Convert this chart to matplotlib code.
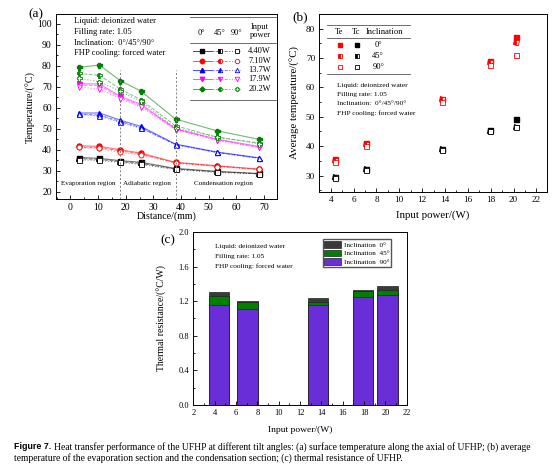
import numpy as np
import matplotlib
matplotlib.use('Agg')
import matplotlib.pyplot as plt
from matplotlib.patches import Patch
from matplotlib.ticker import MultipleLocator
import matplotlib.transforms as mtransforms

plt.rcParams['font.family'] = ['Liberation Serif', 'DejaVu Serif']
plt.rcParams['axes.linewidth'] = 0.7

# ---- panel (a): surface temperature along the axis ----
dist = [3, 10.5, 18, 25.5, 38, 53, 68]
power_labels = ['4.40W', '7.10W', '13.7W', '17.9W', '20.2W']
t_0deg = [
    [36.3, 35.9, 34.8, 34.0, 31.1, 29.7, 28.7],
    [41.9, 41.6, 40.0, 38.4, 34.0, 32.4, 30.8],
    [57.5, 57.5, 54.1, 51.1, 42.7, 38.9, 36.2],
    [71.4, 71.3, 65.4, 61.6, 50.0, 45.0, 41.6],
    [79.2, 80.3, 72.9, 67.9, 54.6, 49.0, 45.0],
]
t_45deg = [
    [35.8, 35.4, 34.3, 33.5, 30.8, 29.5, 28.6],
    [41.3, 41.0, 39.5, 38.0, 33.8, 32.2, 30.6],
    [57.0, 56.5, 53.5, 50.5, 42.5, 38.7, 36.0],
    [70.8, 70.5, 64.8, 61.0, 49.8, 44.8, 41.2],
    [76.3, 75.4, 68.9, 63.8, 51.4, 46.0, 43.2],
]
t_90deg = [
    [35.2, 34.9, 34.0, 33.0, 30.6, 29.2, 28.5],
    [41.1, 40.6, 38.7, 37.6, 33.7, 32.0, 30.6],
    [56.8, 56.0, 53.0, 50.2, 42.4, 38.7, 36.0],
    [69.8, 68.9, 64.3, 60.3, 49.5, 44.4, 41.1],
    [74.0, 72.4, 67.8, 63.0, 50.3, 46.0, 42.9],
]
region_bounds = [18, 38]
region_names = ['Evaporation region', 'Adiabatic region', 'Condensation region']
region_centers = [6.4, 27.6, 55.2]

# ---- panel (b): average temperatures ----
power = [4.4, 7.1, 13.7, 17.9, 20.2]
te_0 = [35.6, 41.0, 56.2, 69.1, 77.3]
te_45 = [35.3, 40.6, 55.9, 68.5, 75.3]
te_90 = [34.6, 39.9, 55.1, 67.5, 71.1]
tc_0 = [29.5, 32.3, 39.2, 45.4, 49.4]
tc_45 = [29.4, 32.1, 39.0, 45.2, 46.6]
tc_90 = [29.3, 31.9, 38.8, 45.0, 46.6]

# ---- panel (c): thermal resistance ----
r_0 = [1.305, 1.208, 1.236, 1.324, 1.375]
r_45 = [1.255, 1.185, 1.189, 1.313, 1.324]
r_90 = [1.158, 1.112, 1.158, 1.251, 1.266]

colors = ['black', '#ff0000', '#0000ff', '#ff00ff', '#008000']
markers = ['s', 'o', '^', 'v', 'P']
info = ['Liquid: deionized water', 'Filling rate: 1.05',
        'Inclination:  0°/45°/90°', 'FHP cooling: forced water']

fig = plt.figure(figsize=(5.54, 4.70), dpi=100)
ax_a = fig.add_axes([0.1011, 0.5759, 0.3995, 0.3943])
ax_b = fig.add_axes([0.5764, 0.5921, 0.4105, 0.3781])
ax_c = fig.add_axes([0.3489, 0.1383, 0.3852, 0.3681])


def style(ax, fs):
    ax.tick_params(which='both', direction='in', top=False, right=False,
                   labelsize=fs, width=0.6, pad=3)
    ax.tick_params(which='major', length=3)
    ax.tick_params(which='minor', length=1.6)


# panel a
ms = 3.6
for i in range(5):
    c = colors[i]
    ax_a.plot(dist, t_0deg[i], '-', color=c, lw=0.8, alpha=0.55)
    ax_a.plot(dist, t_45deg[i], '--', color=c, lw=0.7, alpha=0.5)
    ax_a.plot(dist, t_90deg[i], ':', color=c, lw=0.8, alpha=0.5)
    ax_a.plot(dist, t_0deg[i], ls='none', marker=markers[i], ms=ms, mfc=c, mec=c)
    ax_a.plot(dist, t_45deg[i], ls='none', marker=markers[i], ms=ms, mec=c, mfc=c,
              fillstyle='left', markerfacecoloralt='white', mew=0.6)
    ax_a.plot(dist, t_90deg[i], ls='none', marker=markers[i], ms=ms, mec=c,
              mfc='white', mew=0.6)
for xb in region_bounds:
    ax_a.axvline(xb, ymax=0.7, color='gray', ls=(0, (2, 2)), lw=0.7)
trans = mtransforms.blended_transform_factory(ax_a.transData, ax_a.transAxes)
for name, xc in zip(region_names, region_centers):
    ax_a.text(xc, 0.084, name, transform=trans, ha='center', va='center', fontsize=5.1)
ax_a.set_xlim(-5.2, 74.8)
ax_a.set_ylim(16.4, 104.6)
ax_a.xaxis.set_major_locator(MultipleLocator(10))
ax_a.xaxis.set_minor_locator(MultipleLocator(5))
ax_a.set_yticks(np.arange(20, 101, 10))
ax_a.yaxis.set_minor_locator(MultipleLocator(5))
style(ax_a, 7.0)
ax_a.set_xlabel('Distance/(mm)', fontsize=7.2)
ax_a.set_ylabel('Temperature/(°C)', fontsize=7.4)
ax_a.xaxis.set_label_coords(0.5, -0.063)
ax_a.yaxis.set_label_coords(-0.09, 0.5)
for k, line in enumerate(info):
    ax_a.text(0.081, 0.962 - k * 0.058, line, transform=ax_a.transAxes,
              fontsize=6.1, va='center', ha='left')
# table-style legend
T = ax_a.transAxes
for yr in [0.985, 0.842, 0.536]:
    ax_a.plot([0.605, 0.994], [yr, yr], color='#555555', lw=0.6, transform=T)
for xh, lab in zip([0.658, 0.741, 0.817], ['0°', '45°', '90°']):
    ax_a.text(xh, 0.896, lab, transform=T, ha='center', va='center', fontsize=6)
ax_a.text(0.922, 0.908, 'Input\npower', transform=T, ha='center', va='center',
          fontsize=6, linespacing=1.0)
row_y = [0.802, 0.748, 0.698, 0.648, 0.594]
for i in range(5):
    c = colors[i]
    y = row_y[i]
    ax_a.plot([0.620, 0.70], [y, y], '-', color=c, lw=0.7, alpha=0.7, transform=T)
    ax_a.plot([0.70, 0.78], [y, y], '--', color=c, lw=0.6, alpha=0.6, transform=T)
    ax_a.plot([0.78, 0.831], [y, y], ':', color=c, lw=0.7, alpha=0.6, transform=T)
    ax_a.plot([0.658], [y], marker=markers[i], ms=3.2, color=c, transform=T)
    ax_a.plot([0.741], [y], marker=markers[i], ms=3.2, color=c, mec=c,
              fillstyle='left', markerfacecoloralt='white', mew=0.6, transform=T)
    ax_a.plot([0.817], [y], marker=markers[i], ms=3.2, mec=c, mfc='white',
              mew=0.6, transform=T)
    ax_a.text(0.868, y, power_labels[i], transform=T, ha='left', va='center',
              fontsize=6)

# panel b
msb = 3.6
ax_b.plot(power, te_0, 's', color='#ff0000', ms=msb, ls='none')
ax_b.plot(power, te_45, 's', color='#ff0000', mec='#ff0000', ms=msb, ls='none',
          fillstyle='left', markerfacecoloralt='white', mew=0.6)
ax_b.plot(power, te_90, 's', mec='#ff0000', mfc='white', ms=msb, mew=0.6, ls='none')
ax_b.plot(power, tc_0, 's', color='black', ms=msb, ls='none')
ax_b.plot(power, tc_45, 's', color='black', mec='black', ms=msb, ls='none',
          fillstyle='left', markerfacecoloralt='white', mew=0.6)
ax_b.plot(power, tc_90, 's', mec='black', mfc='white', ms=msb, mew=0.6, ls='none')
ax_b.set_xlim(3.0, 22.9)
ax_b.set_ylim(24.5, 85.0)
ax_b.set_xticks(np.arange(4, 23, 2))
ax_b.xaxis.set_minor_locator(MultipleLocator(1))
ax_b.set_yticks(np.arange(30, 81, 10))
ax_b.yaxis.set_minor_locator(MultipleLocator(5))
style(ax_b, 6.6)
ax_b.set_xlabel('Input power/(W)', fontsize=7.8)
ax_b.set_ylabel('Average temperature/(°C)', fontsize=7.8)
ax_b.xaxis.set_label_coords(0.5, -0.107)
ax_b.yaxis.set_label_coords(-0.085, 0.5)
Tb = ax_b.transAxes
for yr in [0.938, 0.863, 0.662]:
    ax_b.plot([0.0325, 0.399], [yr, yr], color='#555555', lw=0.6, transform=Tb)
for xh, lab in zip([0.088, 0.161, 0.285], ['Te', 'Tc', 'Inclination']):
    ax_b.text(xh, 0.897, lab, transform=Tb, ha='center', va='center', fontsize=6.1)
rows_b = [0.826, 0.764, 0.700]
for k, (y, lab) in enumerate(zip(rows_b, ['0°', '45°', '90°'])):
    for xm, c in zip([0.091, 0.164], ['#ff0000', 'black']):
        if k == 0:
            ax_b.plot([xm], [y], 's', color=c, ms=3.2, transform=Tb)
        elif k == 1:
            ax_b.plot([xm], [y], 's', color=c, mec=c, ms=3.2, fillstyle='left',
                      markerfacecoloralt='white', mew=0.6, transform=Tb)
        else:
            ax_b.plot([xm], [y], 's', mec=c, mfc='white', mew=0.6, ms=3.2,
                      transform=Tb)
    ax_b.text(0.259, y, lab, transform=Tb, ha='center', va='center', fontsize=6.1)
for k, line in enumerate(info):
    ax_b.text(0.0765, 0.600 - k * 0.052, line, transform=Tb, fontsize=5.3,
              va='center', ha='left')

# panel c
bw = 1.93
ax_c.bar(power, r_0, width=bw, color='#3a3a3a', edgecolor='#222222', lw=0.5)
ax_c.bar(power, r_45, width=bw, color='#008000', edgecolor='#222222', lw=0.5)
ax_c.bar(power, r_90, width=bw, color='#6a2ed8', edgecolor='#222222', lw=0.5)
ax_c.set_xlim(2, 22)
ax_c.set_ylim(0, 2.0)
ax_c.set_xticks(np.arange(2, 23, 2))
ax_c.xaxis.set_minor_locator(MultipleLocator(1))
ax_c.set_yticks(np.arange(0, 2.01, 0.4))
ax_c.yaxis.set_minor_locator(MultipleLocator(0.2))
ax_c.yaxis.set_major_formatter(matplotlib.ticker.FormatStrFormatter('%.1f'))
style(ax_c, 6.0)
ax_c.set_xlabel('Input power/(W)', fontsize=6.8)
ax_c.set_ylabel('Thermal resistance/(°C/W)', fontsize=7.0)
ax_c.xaxis.set_label_coords(0.5, -0.121)
ax_c.yaxis.set_label_coords(-0.123, 0.5)
for k, line in enumerate(info[:2] + info[3:]):
    ax_c.text(0.102, 0.915 - k * 0.055, line, transform=ax_c.transAxes,
              fontsize=5.2, va='center', ha='left')
handles = [Patch(facecolor='#3a3a3a', edgecolor='#222222', lw=0.5),
           Patch(facecolor='#008000', edgecolor='#222222', lw=0.5),
           Patch(facecolor='#6a2ed8', edgecolor='#222222', lw=0.5)]
ax_c.legend(handles, ['Inclination  0°', 'Inclination  45°', 'Inclination  90°'],
            loc='upper right', bbox_to_anchor=(0.928, 0.958), fontsize=5.2,
            frameon=True, fancybox=False, edgecolor='#555555', framealpha=1,
            handlelength=2.3, handleheight=1.0, labelspacing=0.25,
            borderpad=0.25, handletextpad=0.4, borderaxespad=0)

# panel labels and caption
fig.text(0.064, 0.970, '(a)', fontsize=9.5, ha='center', va='center')
fig.text(0.542, 0.964, '(b)', fontsize=9.5, ha='center', va='center')
fig.text(0.303, 0.489, '(c)', fontsize=9.5, ha='center', va='center')
fig.text(0.0253, 0.049, 'Figure 7.', fontsize=6.4, fontweight='bold',
         family=['Liberation Sans', 'DejaVu Sans'], va='center', ha='left')
fig.text(0.0966, 0.049, 'Heat transfer performance of the UFHP at different tilt angles: '
         '(a) surface temperature along the axial of UFHP; (b) average',
         fontsize=6.9, va='center', ha='left')
fig.text(0.0253, 0.0245, 'temperature of the evaporation section and the condensation '
         'section; (c) thermal resistance of UFHP.', fontsize=6.9, va='center', ha='left')

fig.savefig('out.png', dpi=100)
